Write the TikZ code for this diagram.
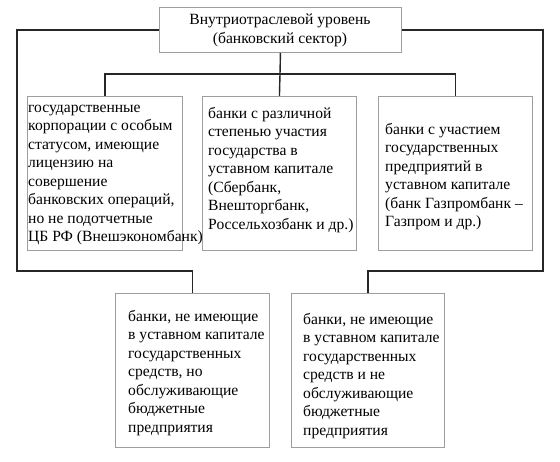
\documentclass[tikz,border=0pt]{standalone}
\usepackage{fontspec}
\setmainfont{Liberation Serif}
\tikzset{
  boxnode/.style={draw=black!38, line width=0.9pt, minimum width=#1, minimum height=154pt, inner sep=0pt, anchor=north west},
  txt/.style={inner sep=0pt, anchor=north west, align=left, font=\fontsize{15.6}{18.5}\selectfont},
  conn/.style={draw=black!85, line width=1.4pt}
}
\begin{document}
\begin{tikzpicture}[x=1pt,y=-1pt]
\useasboundingbox (0,0) rectangle (560,462);
% top
\node[draw=black!38, line width=0.9pt, minimum width=242pt, minimum height=45pt, inner sep=0pt, anchor=north west] (top) at (159,7) {};
\node[inner sep=0pt, align=center, font=\fontsize{15.6}{18.5}\selectfont] (toptxt) at (280,30.5) {Внутриотраслевой уровень\\(банковский сектор)};
% level 2
\node[boxnode=155pt] (b1) at (27,96) {};
\node[boxnode=154pt] (b2) at (202,96) {};
\node[boxnode=154pt] (b3) at (378,96) {};
% level 3
\node[boxnode=154pt] (b4) at (115,293) {};
\node[boxnode=153pt] (b5) at (291,293) {};
% texts
\node[txt] (t1) at (28,{112-12.95}) {\strut государственные\\корпорации с особым\\статусом, имеющие\\лицензию на\\совершение\\банковских операций,\\но не подотчетные\\ЦБ РФ (Внешэкономбанк)};
\node[txt] (t2) at (208,{118-12.95}) {\strut банки с различной\\степенью участия\\государства в\\уставном капитале\\(Сбербанк,\\Внешторгбанк,\\Россельхозбанк и др.)};
\node[txt] (t3) at (385,{134-12.95}) {\strut банки с участием\\государственных\\предприятий в\\уставном капитале\\(банк Газпромбанк –\\Газпром и др.)};
\node[txt] (t4) at (128,{321-12.95}) {\strut банки, не имеющие\\в уставном капитале\\государственных\\средств, но\\обслуживающие\\бюджетные\\предприятия};
\node[txt] (t5) at (303,{324-12.95}) {\strut банки, не имеющие\\в уставном капитале\\государственных\\средств и не\\обслуживающие\\бюджетные\\предприятия};
% connectors
\coordinate (L) at (17,271);
\coordinate (R) at (543,271);
\coordinate (J) at (280,74);
\draw[conn] (top.west) -| (L) -| (b4.north);
\draw[conn] (top.east) -| (R) -| (b5.north);
\draw[conn] (top.south) -- (J);
\draw[conn] (b1.north) |- (J) -| (b3.north);
\draw[conn] (J) -- (b2.north);
\end{tikzpicture}
\end{document}
